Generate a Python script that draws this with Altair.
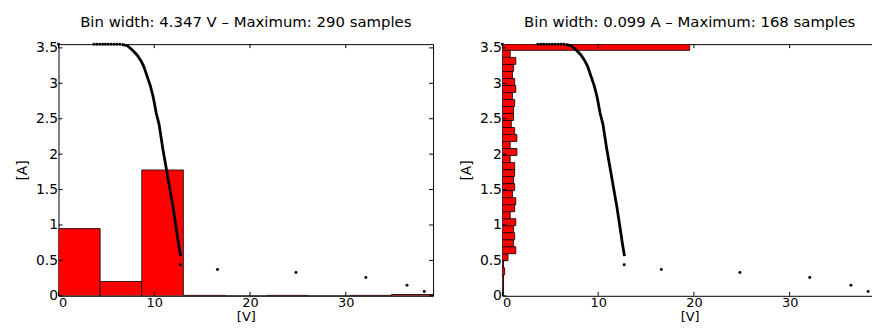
import altair as alt
import pandas as pd

# ---- data ----
X_MAX = 39.12          # [V] axis upper limit
Y_MAX = 3.553          # [A] axis upper limit

# voltage histogram (bin width 4.347 V, bins from 0 V)
v_bin_width = 4.347
v_counts = [155, 33, 290, 1, 0, 1, 0, 1, 3]

# current histogram (bin width 0.099 A, bins from 0 A upward)
i_bin_width = 0.099
i_counts = [1, 1, 1, 2, 1, 5, 12, 10, 11, 10, 12, 7, 11, 12, 9, 11, 10, 11,
            11, 7, 13, 7, 13, 11, 8, 10, 10, 11, 9, 12, 11, 9, 10, 12, 7, 168]

# dense part of the I-V curve
curve_v = [6.6, 7.2, 7.7, 8.2, 8.6, 8.9, 9.3, 9.6, 9.9, 10.2, 10.5, 10.9,
           11.25, 11.6, 11.95, 12.3, 12.55, 12.75]
curve_i = [3.55, 3.53, 3.47, 3.40, 3.32, 3.24, 3.08, 2.96, 2.80, 2.58, 2.42,
           2.07, 1.80, 1.53, 1.26, 0.95, 0.72, 0.56]

# separate samples
dots_v = [0.0, 3.7, 4.0, 4.3, 4.6, 4.9, 5.2, 5.5, 5.8, 6.1, 6.4,
          12.72, 16.6, 24.8, 32.1, 36.4, 38.2]
dots_i = [3.55, 3.55, 3.55, 3.55, 3.55, 3.55, 3.55, 3.55, 3.55, 3.55, 3.55,
          0.44, 0.37, 0.33, 0.26, 0.15, 0.06]

x_ticks = [0, 10, 20, 30]
y_ticks = [0, 0.5, 1, 1.5, 2, 2.5, 3, 3.5]

titles = ["Bin width: 4.347 V \u2013 Maximum: 290 samples",
          "Bin width: 0.099 A \u2013 Maximum: 168 samples"]

# ---- tables ----
vmax = max(v_counts)
left_hist = pd.DataFrame({
    "v_lo": [k * v_bin_width for k in range(len(v_counts))],
    "v_hi": [(k + 1) * v_bin_width for k in range(len(v_counts))],
    "i_lo": [0.0] * len(v_counts),
    "i_hi": [c / vmax * Y_MAX / 2 for c in v_counts],
})
imax = max(i_counts)
right_hist = pd.DataFrame({
    "v_lo": [0.0] * len(i_counts),
    "v_hi": [c / imax * X_MAX / 2 for c in i_counts],
    "i_lo": [k * i_bin_width for k in range(len(i_counts))],
    "i_hi": [min((k + 1) * i_bin_width, Y_MAX) for k in range(len(i_counts))],
})
curve = pd.DataFrame({"v": curve_v, "i": curve_i})
dots = pd.DataFrame({"v": dots_v, "i": dots_i})
xt = pd.DataFrame({"v": x_ticks})
yt = pd.DataFrame({"i": y_ticks})

W, H = 378, 254
FONT = "DejaVu Sans"

xs = alt.Scale(domain=[0, X_MAX], nice=False, zero=False)
ys = alt.Scale(domain=[0, Y_MAX], nice=False, zero=False)
ax_x = alt.Axis(title="[V]", values=x_ticks, format="d")
ax_y = alt.Axis(title="[A]", values=y_ticks, format="~g")


def panel(hist, title):
    bars = alt.Chart(hist).mark_rect(
        fill="#ff0000", stroke="black", strokeWidth=0.8, clip=True
    ).encode(
        x=alt.X("v_lo:Q", scale=xs, axis=ax_x), x2="v_hi",
        y=alt.Y("i_lo:Q", scale=ys, axis=ax_y), y2="i_hi",
    )
    line = alt.Chart(curve).mark_line(color="black", strokeWidth=2.8).encode(
        x=alt.X("v:Q", scale=xs, axis=ax_x),
        y=alt.Y("i:Q", scale=ys, axis=ax_y),
        order=alt.Order("i:Q", sort="descending"),
    )
    pts = alt.Chart(dots).mark_circle(color="black", size=9, opacity=1).encode(
        x=alt.X("v:Q", scale=xs, axis=ax_x),
        y=alt.Y("i:Q", scale=ys, axis=ax_y),
    )
    tick_top = alt.Chart(xt).mark_rule(color="black").encode(
        x=alt.X("v:Q", scale=xs, axis=ax_x), y=alt.value(0), y2=alt.value(4))
    tick_bot = alt.Chart(xt).mark_rule(color="black").encode(
        x=alt.X("v:Q", scale=xs, axis=ax_x), y=alt.value(H - 4), y2=alt.value(H))
    tick_left = alt.Chart(yt).mark_rule(color="black").encode(
        y=alt.Y("i:Q", scale=ys, axis=ax_y), x=alt.value(0), x2=alt.value(4))
    tick_right = alt.Chart(yt).mark_rule(color="black").encode(
        y=alt.Y("i:Q", scale=ys, axis=ax_y), x=alt.value(W - 4), x2=alt.value(W))
    return alt.layer(bars, tick_top, tick_bot, tick_left, tick_right, line, pts).properties(
        width=W, height=H, title=title)


chart = alt.hconcat(
    panel(left_hist, titles[0]),
    panel(right_hist, titles[1]),
    spacing=70, bounds="flush",
).properties(
    padding={"left": 7, "top": 5, "right": -6, "bottom": 0},
    background="white",
).configure_view(
    stroke="black", strokeWidth=1
).configure_axis(
    ticks=False, domain=False, grid=False,
    labelFont=FONT, labelColor="black",
    titleFont=FONT, titleColor="black", titleFontWeight="normal",
).configure_axisY(
    labelFontSize=14, titleFontSize=14, titlePadding=6, labelPadding=1
).configure_axisX(
    labelFontSize=13, titleFontSize=13, labelPadding=1, titlePadding=1
).configure_title(
    font=FONT, fontSize=15, fontWeight="normal", color="black", offset=9
)

chart.save("out.html", embed_options={"renderer": "svg", "actions": False})
